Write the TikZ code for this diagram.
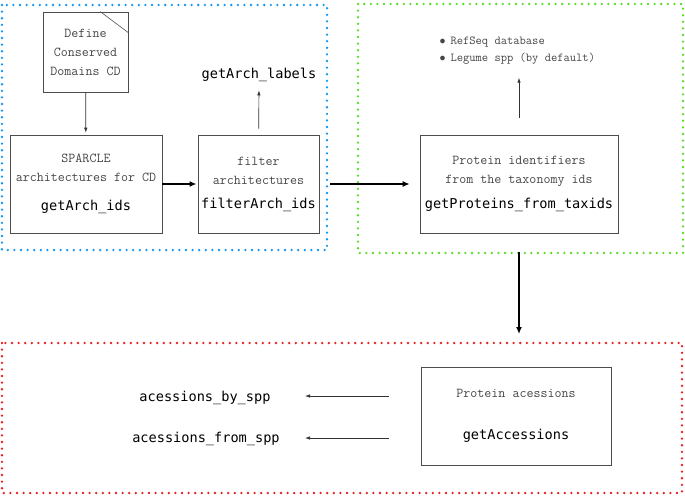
\documentclass[tikz,border=0pt]{standalone}
\usepackage{fontspec}
\usetikzlibrary{arrows.meta}
\newfontfamily\codefont{DejaVu Sans Mono}
\definecolor{frameblue}{RGB}{20,150,240}
\definecolor{framegreen}{RGB}{90,220,40}
\definecolor{framered}{RGB}{235,30,30}
\definecolor{notegray}{RGB}{70,70,70}
\tikzset{
  dotframe/.style={draw=#1, line width=2.6pt, line cap=round,
                   dash pattern=on 0pt off 6.6pt},
  fbox/.style={draw=black!70, line width=0.7pt, align=center, text=notegray,
               font=\ttfamily\fontsize{13.6}{19}\selectfont},
  code/.style={font=\codefont\fontsize{13.6}{16}\selectfont, text=black},
  lnk/.style={draw=black!80, line width=0.7pt, -{Latex[length=5pt,width=3.5pt]}},
  flow/.style={draw=black, line width=1.4pt, -{Latex[length=7pt,width=6pt]}},
}

\begin{document}
\begin{tikzpicture}[x=1pt, y=-1pt]
\useasboundingbox (0,0) rectangle (685,496);

%% Frames
\draw[dotframe=frameblue]  (2,5)   rectangle (327,250);
\draw[dotframe=framegreen] (358,4) rectangle (683,253);
\draw[dotframe=framered]   (2,343) rectangle (682,493);

%% == ARCHITECTURES (blue) ====================================================
\node[fbox, minimum width=85pt, minimum height=80pt] (def) at (85.5,52)
  {Define\\Conserved\\Domains CD};
% folded corner
\draw[black!70, line width=0.6pt] ([xshift=-28pt]def.north east) -- ([yshift=-21pt]def.north east);

\node[fbox, minimum width=152pt, minimum height=98pt] (sparcle) at (86,184)
  {SPARCLE\\architectures for CD\\[10pt]{\codefont\color{black}getArch\_ids}};
\node[fbox, minimum width=119pt, minimum height=98pt] (filt) at (258.5,184)
  {filter\\architectures\\[5pt]{\codefont\color{black}filterArch\_ids}};
\node[code] (labels) at (259,75) {getArch\_labels};

\draw[lnk, shorten >=2pt] (def) -- (sparcle);
\draw[flow, shorten >=1pt] (sparcle) -- (filt);
\draw[lnk, shorten <=6pt, shorten >=5pt] (filt) -- (labels);

%% == PROTEINS (green) ========================================================
\node[fbox, minimum width=198pt, minimum height=98pt] (prot) at (519,184)
  {Protein identifiers\\from the taxonomy ids\\[6pt]{\codefont\color{black}getProteins\_from\_taxids}};
\node[align=left, anchor=west, text=notegray,
      font=\ttfamily\fontsize{12.2}{17}\selectfont] (db) at (436,50.5)
  {$\bullet$\hspace{5pt}RefSeq database\\$\bullet$\hspace{5pt}Legume spp (by default)};

\draw[flow, shorten <=10pt, shorten >=10pt] (filt) -- (prot);
\draw[lnk, shorten <=17pt, shorten >=10pt] (prot) -- (prot |- db.south);

%% == ACCESSIONS (red) ========================================================
\coordinate (redtop) at (519,342);
\draw[flow, shorten <=19pt, shorten >=8pt] (prot) -- (redtop);

\node[fbox, minimum width=190pt, minimum height=98pt] (pacc) at (516,416)
  {Protein acessions\\[23pt]{\codefont\color{black}getAccessions}};
\node[code] (byspp)   at (205,398) {acessions\_by\_spp};
\node[code] (fromspp) at (206,439) {acessions\_from\_spp};
\coordinate (bytip)   at (305,396);
\coordinate (fromtip) at (305,438);

\draw[lnk, shorten <=32pt] (pacc.west |- bytip) -- (bytip);
\draw[lnk, shorten <=32pt] (pacc.west |- fromtip) -- (fromtip);
\end{tikzpicture}
\end{document}
